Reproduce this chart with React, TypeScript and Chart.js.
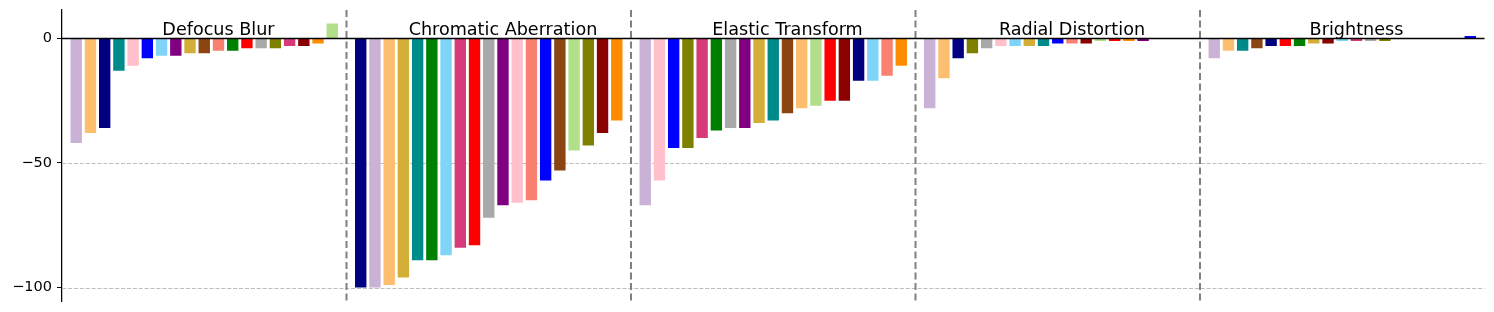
import React, { useEffect, useRef } from 'react';
import { Chart, registerables } from 'chart.js';

Chart.register(...registerables);

// ---- Data ----
const groupNames = ['Defocus Blur', 'Chromatic Aberration', 'Elastic Transform', 'Radial Distortion', 'Brightness'];

const defocusValues = [-42, -38, -36, -13, -11, -8, -7, -7, -6, -6, -5, -5, -4, -4, -4, -3, -3, -2, 6];
const defocusColors = ['lilac', 'lightOrange', 'navy', 'teal', 'pink', 'blue', 'lightSky', 'purple', 'goldenrod', 'brown', 'salmon', 'green', 'red', 'gray', 'olive', 'crimson', 'darkRed', 'orange', 'lightGreen'];

const chromaticValues = [-100, -100, -99, -96, -89, -89, -87, -84, -83, -72, -67, -66, -65, -57, -53, -45, -43, -38, -33];
const chromaticColors = ['navy', 'lilac', 'lightOrange', 'goldenrod', 'teal', 'green', 'lightSky', 'crimson', 'red', 'gray', 'purple', 'pink', 'salmon', 'blue', 'brown', 'lightGreen', 'olive', 'darkRed', 'orange'];

const elasticValues = [-67, -57, -44, -44, -40, -37, -36, -36, -34, -33, -30, -28, -27, -25, -25, -17, -17, -15, -11];
const elasticColors = ['lilac', 'pink', 'blue', 'olive', 'crimson', 'green', 'gray', 'purple', 'goldenrod', 'teal', 'brown', 'lightOrange', 'lightGreen', 'red', 'darkRed', 'navy', 'lightSky', 'salmon', 'orange'];

const radialValues = [-28, -16, -8, -6, -4, -3, -3, -3, -3, -2, -2, -2, -1, -1, -1, -1, 0, 0, 0];
const radialColors = ['lilac', 'lightOrange', 'navy', 'olive', 'gray', 'pink', 'lightSky', 'goldenrod', 'teal', 'blue', 'salmon', 'darkRed', 'lightGreen', 'red', 'orange', 'purple', 'crimson', 'green', 'brown'];

const brightnessValues = [-8, -5, -5, -4, -3, -3, -3, -2, -2, -1, -1, -1, -1, 0, 0, 0, 0, 0, 1];
const brightnessColors = ['lilac', 'lightOrange', 'teal', 'brown', 'navy', 'red', 'green', 'goldenrod', 'darkRed', 'lightSky', 'crimson', 'gray', 'olive', 'pink', 'purple', 'salmon', 'orange', 'lightGreen', 'blue'];

const groupValues = [defocusValues, chromaticValues, elasticValues, radialValues, brightnessValues];
const groupColors = [defocusColors, chromaticColors, elasticColors, radialColors, brightnessColors];

const yTickValues = [0, -50, -100];

// ---- Styles ----
const PALETTE: Record<string, string> = {
  lilac: '#cab2d6',
  lightOrange: '#fdbf6f',
  navy: '#000080',
  teal: '#008b8b',
  pink: '#ffc0cb',
  blue: '#0000ff',
  lightSky: '#7fd4f7',
  purple: '#800080',
  goldenrod: '#d4af37',
  brown: '#8b4513',
  salmon: '#fa8072',
  green: '#008000',
  red: '#ff0000',
  gray: '#a9a9a9',
  olive: '#808000',
  crimson: '#d63a78',
  darkRed: '#8b0000',
  orange: '#ff8c00',
  lightGreen: '#b2df8a',
};

const SLOTS = 20;
const Y_MIN = -105.4;
const Y_MAX = 11.4;
const TITLE_Y = 1.4;
const FONT = '"DejaVu Sans", sans-serif';

const overlayPlugin = {
  id: 'overlay',
  beforeDatasetsDraw(chart: any) {
    const { ctx, chartArea, scales } = chart;
    const y = scales.y;
    ctx.save();
    ctx.strokeStyle = '#bdbdbd';
    ctx.lineWidth = 1.1;
    ctx.setLineDash([4.1, 1.8]);
    yTickValues.forEach((v) => {
      const py = Math.round(y.getPixelForValue(v)) + 0.5;
      ctx.beginPath();
      ctx.moveTo(chartArea.left, py);
      ctx.lineTo(chartArea.right, py);
      ctx.stroke();
    });
    ctx.restore();
  },
  afterDatasetsDraw(chart: any) {
    const { ctx, chartArea, scales } = chart;
    const x = scales.x;
    const y = scales.y;
    ctx.save();
    // group separators
    ctx.strokeStyle = '#808080';
    ctx.lineWidth = 2;
    ctx.setLineDash([7, 3.5]);
    for (let g = 1; g < groupNames.length; g++) {
      const px = x.getPixelForValue(g * SLOTS);
      ctx.beginPath();
      ctx.moveTo(px, chartArea.top);
      ctx.lineTo(px, chartArea.bottom);
      ctx.stroke();
    }
    // zero line
    ctx.setLineDash([]);
    ctx.strokeStyle = '#000';
    ctx.lineWidth = 1.5;
    const pz = y.getPixelForValue(0);
    ctx.beginPath();
    ctx.moveTo(chartArea.left, pz);
    ctx.lineTo(chartArea.right, pz);
    ctx.stroke();
    // titles
    ctx.fillStyle = '#000';
    ctx.font = `17.6px ${FONT}`;
    ctx.textAlign = 'center';
    ctx.textBaseline = 'alphabetic';
    groupNames.forEach((name, g) => {
      ctx.fillText(name, x.getPixelForValue(g * SLOTS + 11), y.getPixelForValue(TITLE_Y));
    });
    ctx.restore();
  },
};

export default function App() {
  const canvasRef = useRef<HTMLCanvasElement | null>(null);

  useEffect(() => {
    if (!canvasRef.current) return;
    const points: { x: number; y: number }[] = [];
    const colors: string[] = [];
    groupValues.forEach((vals, g) => {
      vals.forEach((v, j) => {
        points.push({ x: g * SLOTS + j + 1, y: v });
        colors.push(PALETTE[groupColors[g][j]]);
      });
    });

    const chart = new Chart(canvasRef.current, {
      type: 'bar',
      data: {
        datasets: [
          {
            data: points as any,
            backgroundColor: colors,
            borderWidth: 0,
            barPercentage: 0.8,
            categoryPercentage: 1,
          },
        ],
      },
      options: {
        responsive: false,
        animation: false,
        devicePixelRatio: 1,
        layout: { padding: { left: 0, right: 9.5, top: 10, bottom: 11 } },
        plugins: { legend: { display: false }, tooltip: { enabled: false }, title: { display: false } },
        scales: {
          x: {
            type: 'linear',
            min: 0,
            max: SLOTS * groupNames.length,
            offset: false,
            display: false,
          },
          y: {
            type: 'linear',
            min: Y_MIN,
            max: Y_MAX,
            afterFit: (scale: any) => {
              scale.width = 62;
              scale.paddingTop = 0;
              scale.paddingBottom = 0;
            },
            afterBuildTicks: (scale: any) => {
              scale.ticks = yTickValues.map((v) => ({ value: v }));
            },
            border: { display: true, color: '#000', width: 1.25 },
            grid: {
              drawOnChartArea: false,
              drawTicks: true,
              tickLength: 5,
              tickColor: '#000',
              tickWidth: 1,
            },
            ticks: {
              color: '#000',
              padding: 5,
              font: { family: FONT, size: 14.5 },
              callback: (v: any) => (Number(v) < 0 ? '\u2212' + Math.abs(Number(v)) : String(v)),
            },
          },
        },
      },
      plugins: [overlayPlugin],
    });
    return () => chart.destroy();
  }, []);

  return (
    <div style={{ position: 'absolute', left: 0, top: 0, width: 1494, height: 312, background: '#fff' }}>
      <canvas ref={canvasRef} width={1494} height={312} style={{ display: 'block' }} />
    </div>
  );
}
